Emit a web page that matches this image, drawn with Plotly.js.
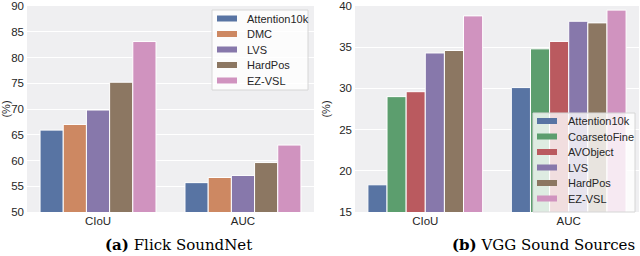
<!DOCTYPE html>
<html>
<head>
<meta charset="utf-8">
<script src="https://cdn.plot.ly/plotly-3.0.1.min.js"></script>
<style>html,body{margin:0;padding:0;background:#fff}</style>
</head>
<body>
<div id="chart" style="width:640px;height:256px"></div>
<script>
// ---- data ----
const categories = ['CIoU', 'AUC'];

const flickMethods = ['Attention10k', 'DMC', 'LVS', 'HardPos', 'EZ-VSL'];
const flickAttention10k = [65.9, 55.7];
const flickDMC = [67.0, 56.7];
const flickLVS = [69.8, 57.1];
const flickHardPos = [75.2, 59.6];
const flickEZVSL = [83.1, 63.0];

const vggMethods = ['Attention10k', 'CoarsetoFine', 'AVObject', 'LVS', 'HardPos', 'EZ-VSL'];
const vggAttention10k = [18.3, 30.1];
const vggCoarsetoFine = [29.0, 34.8];
const vggAVObject = [29.6, 35.7];
const vggLVS = [34.3, 38.15];
const vggHardPos = [34.6, 37.95];
const vggEZVSL = [38.8, 39.5];

const flickTicks = [50, 55, 60, 65, 70, 75, 80, 85, 90];
const vggTicks = [15, 20, 25, 30, 35, 40];

const captionA = '<b>(a)</b> Flick SoundNet';
const captionB = '<b>(b)</b> VGG Sound Sources';
const yTitle = '(%)';

// ---- styling ----
const colors = {
  'Attention10k': '#5874A3',
  'DMC': '#CD8862',
  'CoarsetoFine': '#5C9E6E',
  'AVObject': '#BA5A5F',
  'LVS': '#8778AB',
  'HardPos': '#8C7762',
  'EZ-VSL': '#D093BF'
};
const W = 640, H = 256;
const px = x => x / W;
const py = y => 1 - y / H;
const sans = 'Liberation Sans, Arial, sans-serif';
const serif = 'DejaVu Serif, Liberation Serif, serif';

const flickSeries = [flickAttention10k, flickDMC, flickLVS, flickHardPos, flickEZVSL];
const vggSeries = [vggAttention10k, vggCoarsetoFine, vggAVObject, vggLVS, vggHardPos, vggEZVSL];

const traces = [];
flickMethods.forEach((m, i) => traces.push({
  type: 'bar', name: m, x: categories, y: flickSeries[i], xaxis: 'x', yaxis: 'y',
  marker: {color: colors[m], line: {color: '#ffffff', width: 1}},
  showlegend: false, hoverinfo: 'skip'
}));
vggMethods.forEach((m, i) => traces.push({
  type: 'bar', name: m, x: categories, y: vggSeries[i], xaxis: 'x2', yaxis: 'y2',
  marker: {color: colors[m], line: {color: '#ffffff', width: 1}},
  showlegend: false, hoverinfo: 'skip'
}));

// custom legends (boxes, swatches, labels)
const shapes = [];
const annotations = [];
function addLegend(methods, box, swX, txtX, y0, step) {
  shapes.push({type: 'rect', xref: 'paper', yref: 'paper',
    x0: px(box[0]), x1: px(box[2]), y0: py(box[3]), y1: py(box[1]),
    fillcolor: 'rgba(255,255,255,0.8)', line: {color: '#d6d6d6', width: 1}, layer: 'above'});
  methods.forEach((m, i) => {
    const cy = y0 + i * step;
    shapes.push({type: 'rect', xref: 'paper', yref: 'paper',
      x0: px(swX), x1: px(swX + 20), y0: py(cy + 3), y1: py(cy - 3),
      fillcolor: colors[m], line: {width: 0}, layer: 'above'});
    annotations.push({xref: 'paper', yref: 'paper', x: px(txtX), y: py(cy),
      xanchor: 'left', yanchor: 'middle', showarrow: false, text: m,
      font: {family: sans, size: 11, color: '#262626'}});
  });
}
addLegend(flickMethods, [212, 10, 308, 90], 217, 245, 18.5, 15.5);
addLegend(vggMethods, [533, 113, 635, 212], 537, 566, 121, 15.5);

annotations.push({xref: 'paper', yref: 'paper', x: px(178), y: py(245), xanchor: 'center', yanchor: 'middle',
  showarrow: false, text: captionA, font: {family: serif, size: 15, color: '#000'}});
annotations.push({xref: 'paper', yref: 'paper', x: px(543), y: py(245), xanchor: 'center', yanchor: 'middle',
  showarrow: false, text: captionB, font: {family: serif, size: 15, color: '#000'}});

const tickFont = {family: sans, size: 11.5, color: '#262626'};
const xCommon = {type: 'category', range: [-0.49, 1.49], showgrid: false, zeroline: false,
  ticks: '', tickfont: tickFont, showline: false, fixedrange: true};
const yCommon = {showgrid: true, gridcolor: '#ffffff', gridwidth: 1, zeroline: false,
  ticks: '', tickfont: tickFont, showline: false, fixedrange: true, ticklabelstandoff: 2,
  ticklabeloverflow: 'allow',
  title: {text: yTitle, font: {family: sans, size: 11, color: '#262626'}, standoff: 6}};

const layout = {
  width: W, height: H,
  margin: {l: 0, r: 0, t: 0, b: 0},
  paper_bgcolor: '#ffffff',
  plot_bgcolor: '#EFEFF1',
  barmode: 'group', bargap: 0.2, bargroupgap: 0,
  showlegend: false,
  xaxis: Object.assign({}, xCommon, {domain: [px(27), px(314)], anchor: 'y'}),
  yaxis: Object.assign({}, yCommon, {domain: [py(212), py(6)], range: [50, 90],
    tickvals: flickTicks, anchor: 'x'}),
  xaxis2: Object.assign({}, xCommon, {domain: [px(355), px(639)], anchor: 'y2'}),
  yaxis2: Object.assign({}, yCommon, {domain: [py(212), py(6)], range: [15, 40],
    tickvals: vggTicks, anchor: 'x2'}),
  shapes: shapes,
  annotations: annotations
};

Plotly.newPlot('chart', traces, layout, {staticPlot: true, displayModeBar: false});
</script>
</body>
</html>
